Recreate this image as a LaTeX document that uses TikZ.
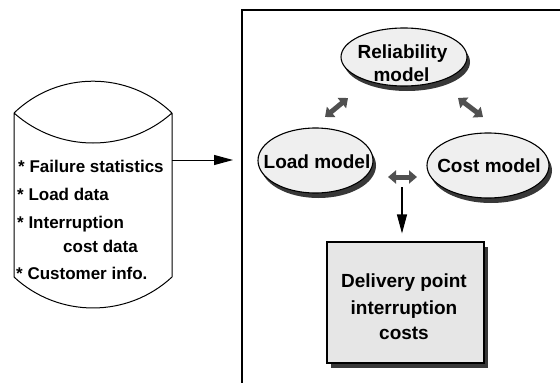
\documentclass[tikz,border=0pt]{standalone}
\usepackage{fontspec}
\setmainfont{Liberation Sans}
\usetikzlibrary{arrows.meta,shapes.geometric,shadows}

\definecolor{ellfill}{HTML}{EFEFEF}
\definecolor{boxfill}{HTML}{E6E6E6}
\definecolor{shadowgray}{HTML}{383838}
\definecolor{arrowgray}{HTML}{505050}

\tikzset{
  cyltxt/.style={anchor=base west, inner sep=0pt,
    font=\fontsize{17}{20}\selectfont\bfseries},
  modeltxt/.style={anchor=base, inner sep=0pt,
    font=\bfseries\fontsize{19}{22}\selectfont},
  model/.style={ellipse, draw, line width=1.1pt, fill=ellfill, inner sep=0pt,
    drop shadow={shadow xshift=3pt, shadow yshift=-5pt, opacity=1, fill=shadowgray}},
  resultbox/.style={rectangle, draw, line width=1.1pt, fill=boxfill, inner sep=0pt,
    drop shadow={shadow xshift=4pt, shadow yshift=-5pt, opacity=1, fill=shadowgray}},
  twoway/.style={draw=arrowgray, line width=5pt,
    {Triangle[width=13pt,length=8pt]}-{Triangle[width=13pt,length=8pt]}},
  flow/.style={draw, line width=1.1pt, -{Triangle[width=10pt,length=19pt]}},
}

\begin{document}
\begin{tikzpicture}[x=1pt,y=-1pt]
\useasboundingbox (0,0) rectangle (560,383);

% data store (cylinder with lens-shaped top)
\draw[line width=1pt]
  (14,113) .. controls (58,70.6) and (128,70.6) .. (172,113)
  (14,113) .. controls (59,153) and (127,153) .. (172,113)
  (14,113) -- (14,277)
  (172,113) -- (172,277)
  (14,277) .. controls (58.5,318.3) and (127.5,318.3) .. (172,277);

\node[cyltxt] (d1) at (18,172) {* Failure statistics};
\node[cyltxt] (d2) at (17,200) {* Load data};
\node[cyltxt] (d3) at (17,228) {* Interruption};
\node[cyltxt] (d4) at (63,252) {cost data};
\node[cyltxt] (d5) at (16,279) {* Customer info.};

% frame around the model
\coordinate (ftop) at (560,10);
\coordinate (fcorner) at (242,10);
\coordinate (fbottom) at (242,383);
\draw[line width=1.2pt] (ftop) -- (fcorner) -- (fbottom);

% data flow into the model
\coordinate (cylout) at (172,160);
\coordinate (framein) at (242,160);
\draw[flow, line width=1pt, shorten >=9pt] (cylout) -- (framein);

% model components
\node[model, minimum width=126pt, minimum height=58pt] (rel) at (404,57) {};
\node[model, minimum width=115pt, minimum height=65pt] (load) at (315.5,160.5) {};
\node[model, minimum width=122pt, minimum height=65pt] (cost) at (488,165.5) {};

\node[modeltxt] (relt1) at (402.5,58) {Reliability};
\node[modeltxt] (relt2) at (401.5,81) {model};
\node[modeltxt] (loadt) at (317,168) {Load model};
\node[modeltxt] (costt) at (489,172) {Cost model};

% interactions between the models
\coordinate (a1) at (325,117);
\coordinate (a2) at (348,98);
\coordinate (b1) at (458,98);
\coordinate (b2) at (483,117);
\coordinate (c1) at (388,177);
\coordinate (c2) at (417,177);
\draw[twoway] (a1) -- (a2);
\draw[twoway] (b1) -- (b2);
\draw[twoway] (c1) -- (c2);

% result
\node[resultbox, minimum width=157pt, minimum height=121pt] (box) at (405.5,302.5) {};
\node[modeltxt] (bt1) at (404,287.5) {Delivery point};
\node[modeltxt] (bt2) at (404,314) {interruption};
\node[modeltxt] (bt3) at (404,339) {costs};

\coordinate (down) at (402,187);
\draw[flow, shorten >=8pt] (down) -- (down |- box.north);
\end{tikzpicture}
\end{document}
